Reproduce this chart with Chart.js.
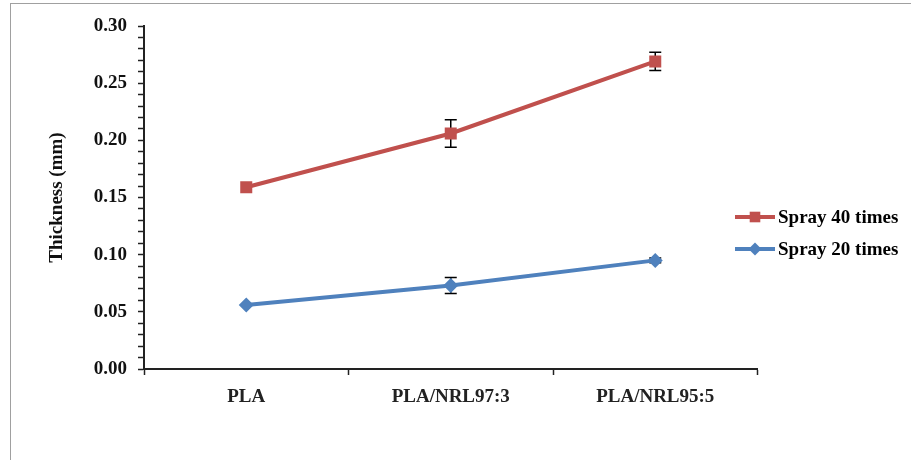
<!DOCTYPE html>
<html>
<head>
<meta charset="utf-8">
<script src="https://cdn.jsdelivr.net/npm/chart.js@4.4.1/dist/chart.umd.min.js"></script>
<style>
  body { margin: 0; background: #fff; }
  #wrap { position: relative; width: 911px; height: 460px; }
  #frame { position: absolute; left: 10px; top: 3px; right: 0; bottom: 0;
           border-top: 1px solid #a0a0a0; border-left: 1px solid #a0a0a0; }
  canvas { position: absolute; left: 0; top: 0; }
</style>
</head>
<body>
<div id="wrap">
  <div id="frame"></div>
  <canvas id="chart" width="911" height="460"></canvas>
</div>
<script>
const categories = ['PLA', 'PLA/NRL97:3', 'PLA/NRL95:5'];
const spray40 = [0.159, 0.206, 0.269];
const spray40Err = [0.0, 0.012, 0.008];
const spray20 = [0.056, 0.073, 0.095];
const spray20Err = [0.0, 0.007, 0.002];

const serif = '"Liberation Serif", "Times New Roman", serif';

// error bars, drawn under the markers
const errorBars = {
    id: 'errorBars',
    beforeDatasetsDraw(chart) {
        const ctx = chart.ctx;
        const y = chart.scales.y;
        ctx.save();
        ctx.strokeStyle = '#000';
        ctx.lineWidth = 1.5;
        chart.data.datasets.forEach((ds, i) => {
            const meta = chart.getDatasetMeta(i);
            meta.data.forEach((pt, j) => {
                const e = ds.errors[j];
                if (!e) return;
                const top = y.getPixelForValue(ds.data[j] + e);
                const bot = y.getPixelForValue(ds.data[j] - e);
                ctx.beginPath();
                ctx.moveTo(pt.x, top); ctx.lineTo(pt.x, bot);
                ctx.moveTo(pt.x - 6, top); ctx.lineTo(pt.x + 6, top);
                ctx.moveTo(pt.x - 6, bot); ctx.lineTo(pt.x + 6, bot);
                ctx.stroke();
            });
        });
        ctx.restore();
    }
};

// legend at right, over the chart box
const sideLegend = {
    id: 'sideLegend',
    afterDraw(chart) {
        const ctx = chart.ctx;
        const x0 = 735, ys = [217, 249];
        ctx.save();
        chart.data.datasets.forEach((ds, i) => {
            const yy = ys[i];
            ctx.strokeStyle = ds.borderColor;
            ctx.lineWidth = 4;
            ctx.beginPath();
            ctx.moveTo(x0, yy); ctx.lineTo(x0 + 40, yy);
            ctx.stroke();
            ctx.fillStyle = ds.backgroundColor;
            Chart.helpers.drawPoint(ctx, {
                pointStyle: ds.pointStyle, radius: ds.pointRadius - 1, borderWidth: 0
            }, x0 + 20, yy);
            ctx.fillStyle = '#000';
            ctx.font = 'bold 19px ' + serif;
            ctx.textBaseline = 'middle';
            ctx.textAlign = 'left';
            ctx.fillText(ds.label, x0 + 43, yy + 1);
        });
        ctx.restore();
    }
};

new Chart(document.getElementById('chart'), {
    type: 'line',
    data: {
        labels: categories,
        datasets: [
            {
                label: 'Spray 40 times',
                data: spray40,
                errors: spray40Err,
                borderColor: '#C0504D',
                backgroundColor: '#C0504D',
                borderWidth: 4,
                pointStyle: 'rect',
                pointRadius: 8.5,
                pointBorderWidth: 0
            },
            {
                label: 'Spray 20 times',
                data: spray20,
                errors: spray20Err,
                borderColor: '#4F81BD',
                backgroundColor: '#4F81BD',
                borderWidth: 4,
                pointStyle: 'rectRot',
                pointRadius: 7.5,
                pointBorderWidth: 0
            }
        ]
    },
    options: {
        responsive: false,
        animation: false,
        layout: { padding: { top: 26, right: 153.5, left: 0, bottom: 0 } },
        plugins: { legend: { display: false }, tooltip: { enabled: false } },
        scales: {
            x: {
                offset: true,
                grid: { offset: true, drawOnChartArea: false, tickLength: 6, tickColor: '#222', tickWidth: 1.5 },
                border: { color: '#222', width: 2 },
                ticks: { color: '#222', font: { family: serif, size: 19, weight: 'bold' }, padding: 11, maxRotation: 0 },
                afterFit(s) { s.height = 91; }
            },
            y: {
                min: 0,
                max: 0.3,
                grid: { drawOnChartArea: false, tickLength: 6, tickColor: '#222', tickWidth: 1.5 },
                border: { color: '#222', width: 2 },
                ticks: {
                    stepSize: 0.01,
                    autoSkip: false,
                    color: '#111',
                    padding: 11,
                    font: { family: serif, size: 19, weight: 'bold' },
                    callback: v => Math.round(v * 100) % 5 === 0 ? v.toFixed(2) : ''
                },
                title: {
                    display: true,
                    text: 'Thickness (mm)',
                    color: '#111',
                    font: { family: serif, size: 19, weight: 'bold' },
                    padding: { top: 46, bottom: 0 }
                },
                afterFit(s) { s.width = 144; }
            }
        }
    },
    plugins: [errorBars, sideLegend]
});
</script>
</body>
</html>
